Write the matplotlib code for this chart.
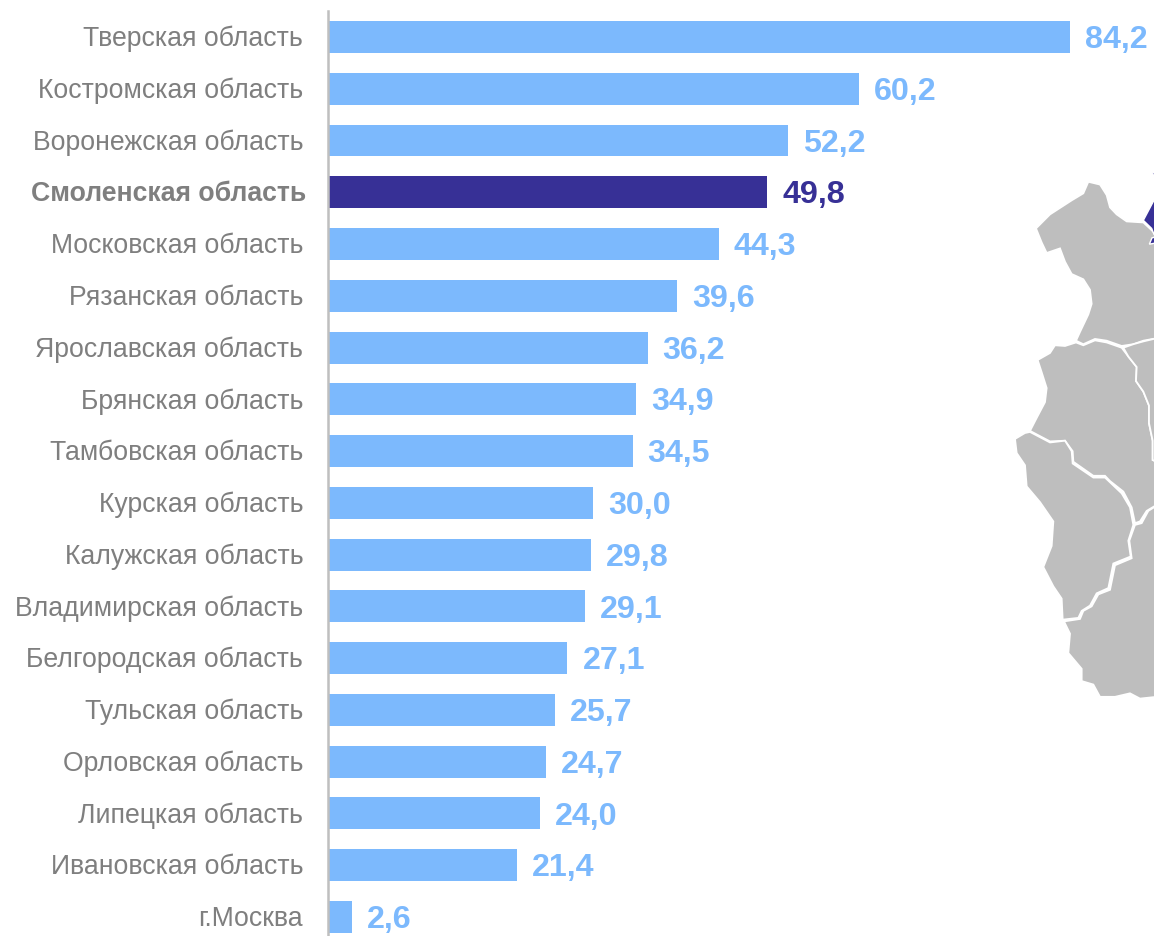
import matplotlib
matplotlib.use("Agg")
import matplotlib.pyplot as plt
from matplotlib.patches import Polygon
from matplotlib.transforms import ScaledTranslation

plt.rcParams['font.family'] = ['Liberation Sans', 'DejaVu Sans']

regions = ["Тверская область", "Костромская область", "Воронежская область", "Смоленская область",
           "Московская область", "Рязанская область", "Ярославская область", "Брянская область",
           "Тамбовская область", "Курская область", "Калужская область", "Владимирская область",
           "Белгородская область", "Тульская область", "Орловская область", "Липецкая область",
           "Ивановская область", "г.Москва"]
values = [84.2, 60.2, 52.2, 49.8, 44.3, 39.6, 36.2, 34.9, 34.5, 30.0, 29.8, 29.1, 27.1, 25.7, 24.7, 24.0, 21.4, 2.6]
highlight = "Смоленская область"

LIGHT = "#7CB9FD"
DARK = "#373096"
GREY = "#7F7F7F"

# map outlines, in px of the zoomed map crop (origin at 1000,160)
map_top = [(265,62),(300,70),(320,100),(330,135),(350,155),(380,175),(430,178),(455,200),(470,215),(470,508),
           (430,515),(400,525),(365,530),(320,515),(285,510),(250,525),(228,515),(240,490),(265,440),(275,410),
           (270,370),(250,340),(215,325),(195,290),(180,252),(140,265),(125,235),(108,195),(150,155),(215,115),(250,95)]
map_mid = [(228,520),(250,528),(285,514),(320,520),(365,535),(385,560),(410,590),(408,630),(430,660),(447,700),
           (447,750),(458,800),(458,855),(470,860),(470,983),(440,1000),(420,1030),(405,1035),(395,990),(370,945),
           (330,915),(315,900),(280,900),(220,860),(218,830),(195,800),(150,802),(90,772),(110,735),(135,690),
           (140,650),(125,605),(113,570),(150,550),(165,528),(195,530)]
map_right = [(370,535),(400,525),(430,517),(470,508),(470,860),(458,855),(458,800),(447,750),(447,700),(430,660),
             (408,630),(410,590),(385,560)]
map_low = [(45,795),(75,778),(90,775),(150,805),(195,800),(215,830),(218,865),(280,905),(315,905),(365,950),
           (390,990),(400,1040),(385,1085),(392,1130),(340,1150),(325,1220),(290,1235),(270,1270),(245,1285),
           (235,1305),(188,1310),(185,1250),(160,1215),(130,1160),(155,1100),(160,1030),(120,975),(80,930),(75,870),(50,835)]
map_bottom = [(192,1315),(240,1308),(250,1285),(275,1272),(295,1238),(330,1225),(345,1155),(395,1135),(388,1085),
              (405,1040),(425,1035),(445,1000),(470,985),(470,1530),(420,1535),(390,1520),(345,1530),(300,1530),
              (280,1495),(245,1485),(245,1450),(205,1405),(210,1350)]
map_dark = [(470,100),(430,172),(455,195),(462,212),(470,212)]
map_dark2 = [(448,240),(456,222),(470,218),(470,236)]
map_dark3 = [(456,33),(470,33),(470,42),(460,42)]
map_grey = [map_top, map_mid, map_right, map_low, map_bottom]

W, H = 1154, 936
fig = plt.figure(figsize=(W / 100, H / 100), dpi=100)

# map sits under the bars, drawn in picture px
bg = fig.add_axes([0, 0, 1, 1])
bg.set_xlim(0, W)
bg.set_ylim(H, 0)
bg.axis("off")

def to_px(points):
    # crop came back 3x wide, about 2.85x high
    return [(1000 + x / 3, 160 + y / 2.85) for x, y in points]

for shape in map_grey:
    bg.add_patch(Polygon(to_px(shape), closed=True, fc="#BEBEBE", ec="white", lw=1.3))
for shape in [map_dark, map_dark2, map_dark3]:
    bg.add_patch(Polygon(to_px(shape), closed=True, fc=DARK, ec="white", lw=1))

ax = fig.add_axes([329 / W, 0, (W - 329) / W, 1 - 11 / H])
ax.patch.set_alpha(0)

# set_position resets the ticks, so spines go first
for s in ["top", "right", "bottom"]:
    ax.spines[s].set_visible(False)
ax.spines["left"].set_color("#BFBFBF")
ax.spines["left"].set_linewidth(1.8)
ax.spines["left"].set_position(("outward", 0.9))

y = list(range(len(regions)))
colors = [DARK if r == highlight else LIGHT for r in regions]
ax.barh(y, values, height=0.618, color=colors)
ax.set_xlim(0, (W - 329) / 8.8)
ax.set_ylim(17.37, -0.502)

ax.set_xticks([])
ax.set_yticks(y)
ax.set_yticklabels(regions, fontsize=19.2, color=GREY)
ax.tick_params(axis="y", length=0, pad=17.7)
for label in ax.get_yticklabels():
    dx = 0
    if label.get_text() == highlight:
        label.set_fontweight("bold")
        dx = 3 / 100
    label.set_transform(label.get_transform() + ScaledTranslation(dx, 1 / 100, fig.dpi_scale_trans))

for i, v in enumerate(values):
    ax.annotate(f"{v:.1f}".replace(".", ","), (v, i), xytext=(10.8, -2.3), textcoords="offset points",
                va="center", ha="left", fontsize=23.2, fontweight="bold", color=colors[i])

fig.savefig("out.png", dpi=100)
